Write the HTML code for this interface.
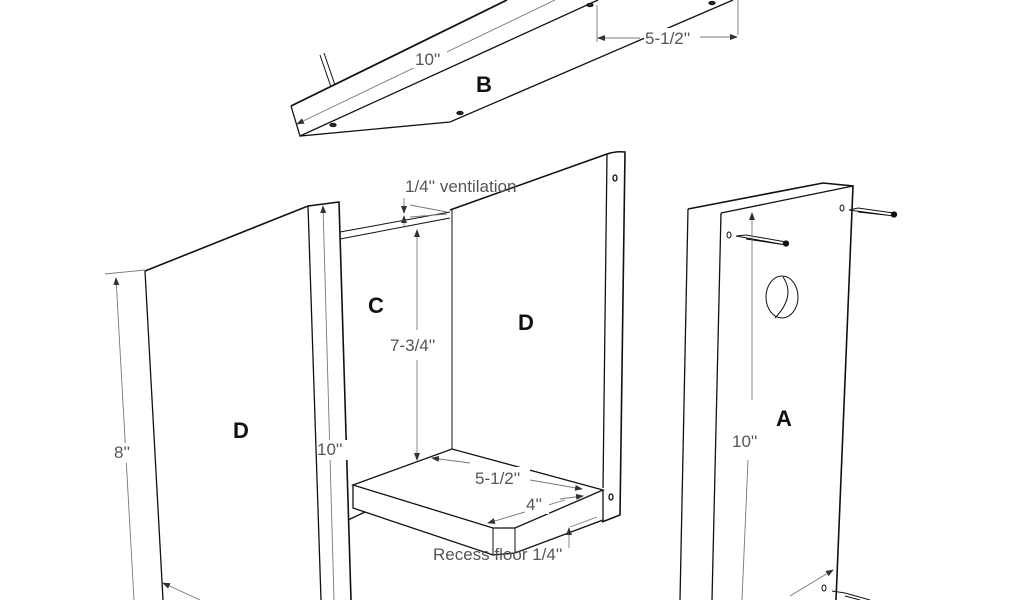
<!DOCTYPE html>
<html><head><meta charset="utf-8"><style>
html,body{margin:0;padding:0;background:#fff;}
svg{display:block;}
text{font-family:"Liberation Sans",sans-serif;}
.d{fill:#555;font-size:17px;}
.l{fill:#111;font-size:22px;font-weight:bold;}
</style></head><body>
<svg width="1024" height="600" viewBox="0 0 1024 600" xmlns="http://www.w3.org/2000/svg">
<defs>
<marker id="a" markerWidth="8" markerHeight="8" refX="7" refY="4" orient="auto" markerUnits="userSpaceOnUse">
<path d="M0,1 L8,4 L0,7 Z" fill="#333"/></marker>
</defs>
<g fill="none" stroke="#111" stroke-width="1.3">
<path d="M291,106 L507,0" stroke-width="1.8"/>
<path d="M291,106 L300,136 L450,122 L733,0"/>
<path d="M300,136 L598,0"/>
<path d="M320,55 L331,87 M324,53 L335,85" stroke-width="1"/>
<ellipse cx="333" cy="125" rx="3" ry="1.5" fill="#333"/>
<ellipse cx="460" cy="113" rx="3" ry="1.5" fill="#333"/>
<ellipse cx="590" cy="5" rx="3" ry="1.5" fill="#333"/>
<ellipse cx="712" cy="3" rx="3" ry="1.5" fill="#333"/>
<path d="M145,271 L308,206 L339,202 L351,600" stroke-width="1.6"/>
<path d="M145,271 L163,600"/>
<path d="M308,206 L321,600"/>
<path d="M340,232 L450,212 M340,239 L450,218" stroke-width="1"/>
<path d="M348,520 L365,512" />
<path d="M450,210 L607,154 Q616,151 625,152 L620,515 L602,522" stroke-width="1.6"/>
<path d="M452,210 L452,450" stroke-width="1"/>
<path d="M607,154 L603,488"/>
<ellipse cx="615" cy="178" rx="2" ry="3"/>
<ellipse cx="611" cy="497" rx="2" ry="3"/>
<path d="M353,485 L452,449 L603,490 L515,528 L493,528 Z" fill="#fff"/>
<path d="M353,485 L353,508 L493,555 L515,553 L603,520 L603,490"/>
<path d="M493,528 L493,555 M515,528 L515,553" stroke-width="1"/>
<path d="M688,209 L823,183 L853,186 L836,600" stroke-width="1.6"/>
<path d="M688,209 L680,600"/>
<path d="M721,213 L853,186"/>
<path d="M721,213 L712,600"/>
<ellipse cx="782" cy="297" rx="16" ry="21" stroke-width="1"/>
<path d="M783,277 Q796,296 775,318" stroke-width="1"/>
<ellipse cx="729" cy="235" rx="2" ry="3" stroke-width="1"/>
<path d="M736,236 L746,235 L786,242 M746,239 L786,245 L736,236" stroke-width="1"/>
<circle cx="786" cy="243.5" r="2.5" fill="#111"/>
<ellipse cx="842" cy="208" rx="2" ry="3" stroke-width="1"/>
<path d="M849,210 L858,208 L894,213 M858,212 L894,216 L849,210" stroke-width="1"/>
<circle cx="894" cy="214.5" r="2.5" fill="#111"/>
<ellipse cx="824" cy="588" rx="2" ry="3" stroke-width="1"/>
<path d="M832,591 L845,593 L870,600 M845,596 L860,600" stroke-width="1"/>
</g>
<g fill="none" stroke="#777" stroke-width="0.9">
<path d="M555,0 L297,124" marker-end="url(#a)"/>
<path d="M597,5 L597,42 M738,0 L738,35"/>
<path d="M640,38 L598,38" marker-end="url(#a)"/>
<path d="M700,37 L737,37" marker-end="url(#a)"/>
<path d="M105,274 L145,270"/>
<path d="M134,600 L116,278" marker-end="url(#a)"/>
<path d="M200,600 L163,583" marker-end="url(#a)"/>
<path d="M334,600 L323,206" marker-end="url(#a)"/>
<path d="M410,205 L447,212 M410,217 L447,214"/>
<path d="M404,198 L404,213" marker-end="url(#a)"/>
<path d="M404,228 L404,216" marker-end="url(#a)"/>
<path d="M417,330 L417,230" marker-end="url(#a)"/>
<path d="M417,360 L417,460" marker-end="url(#a)"/>
<path d="M470,463 L432,458" marker-end="url(#a)"/>
<path d="M530,480 L582,489" marker-end="url(#a)"/>
<path d="M565,500 L488,523" marker-end="url(#a)"/>
<path d="M560,499 L583,496" marker-end="url(#a)"/>
<path d="M570,527 L597,517"/>
<path d="M569,548 L569,528" marker-end="url(#a)"/>
<path d="M752,400 L752,213" marker-end="url(#a)"/>
<path d="M748,460 L742,600"/>
<path d="M790,596 L833,570" marker-end="url(#a)"/>
</g>
<g>
<rect x="413" y="48" width="34" height="20" fill="#fff"/>
<text class="d" x="415" y="65">10''</text>
<rect x="644" y="28" width="56" height="20" fill="#fff"/>
<text class="d" x="645" y="44">5-1/2''</text>
<text class="d" x="405" y="192">1/4'' ventilation</text>
<rect x="389" y="335" width="56" height="20" fill="#fff"/>
<text class="d" x="390" y="351">7-3/4''</text>
<rect x="474" y="467" width="56" height="20" fill="#fff"/>
<text class="d" x="475" y="484">5-1/2''</text>
<rect x="525" y="494" width="24" height="20" fill="#fff"/>
<text class="d" x="526" y="510">4''</text>
<text class="d" x="433" y="560">Recess floor 1/4''</text>
<rect x="317" y="440" width="34" height="20" fill="#fff"/>
<text class="d" x="317" y="455">10''</text>
<rect x="112" y="443" width="24" height="20" fill="#fff"/>
<text class="d" x="114" y="458">8''</text>
<rect x="731" y="432" width="34" height="20" fill="#fff"/>
<text class="d" x="732" y="447">10''</text>
<text class="l" x="476" y="92">B</text>
<text class="l" x="233" y="438">D</text>
<text class="l" x="368" y="313">C</text>
<text class="l" x="518" y="330">D</text>
<text class="l" x="776" y="426">A</text>
</g>
</svg>
</body></html>
